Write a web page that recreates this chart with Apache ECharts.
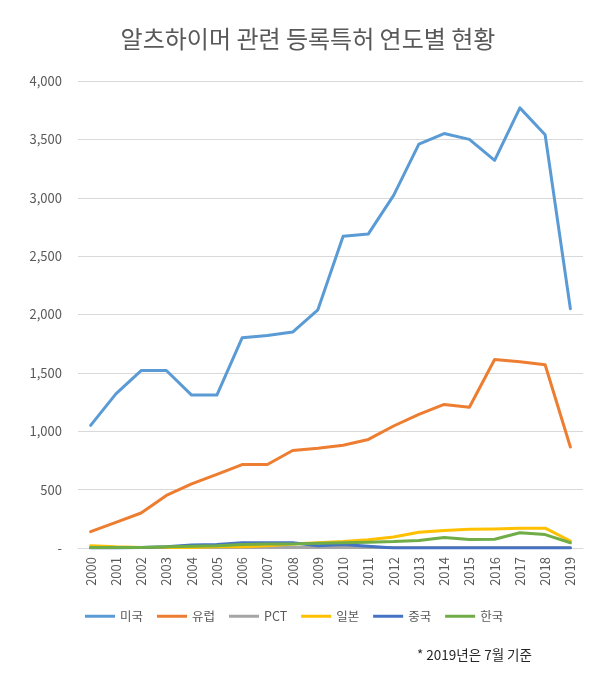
<!DOCTYPE html>
<html>
<head>
<meta charset="utf-8">
<script src="https://cdn.jsdelivr.net/npm/echarts@6/dist/echarts.min.js"></script>
<style>
html,body{margin:0;padding:0;background:#fff;}
#c{width:616px;height:675px;}
</style>
</head>
<body>
<div id="c"></div>
<script>
const years = ['2000','2001','2002','2003','2004','2005','2006','2007','2008','2009','2010','2011','2012','2013','2014','2015','2016','2017','2018','2019'];
const usa    = [1050,1320,1520,1520,1310,1310,1800,1820,1850,2040,2670,2690,3020,3460,3550,3500,3320,3770,3540,2050];
const europe = [140,220,300,450,550,630,715,715,835,855,880,930,1045,1145,1230,1205,1615,1595,1570,865];
const pct    = [5,5,5,5,5,5,5,5,5,5,5,5,5,5,5,5,5,5,5,5];
const japan  = [20,10,5,5,5,10,10,20,35,45,55,70,95,135,150,160,163,170,170,60];
const china  = [0,0,5,10,25,30,45,45,45,20,30,15,0,0,0,0,0,0,0,0];
const korea  = [5,5,5,10,15,20,30,35,35,40,45,50,55,65,90,72,75,130,115,45];
const seriesNames = ['미국','유럽','PCT','일본','중국','한국'];
const seriesColors = ['#5B9BD5','#ED7D31','#A5A5A5','#FFC000','#4472C4','#70AD47'];
const seriesData = [usa, europe, pct, japan, china, korea];

const chart = echarts.init(document.getElementById('c'));
const font = '"Noto Sans CJK KR", "Noto Sans", sans-serif';
chart.setOption({
  animation: false,
  textStyle: {fontFamily: font},
  title: {
    text: '알츠하이머 관련 등록특허 연도별 현황',
    left: 'center', top: 22,
    textStyle: {fontSize: 24, fontWeight: 'normal', color: '#595959', fontFamily: font}
  },
  legend: {
    top: 605, left: 80,
    itemWidth: 30, itemHeight: 3, itemGap: 14,
    icon: 'rect',
    textStyle: {fontSize: 12.5, color: '#595959', fontFamily: font},
    data: seriesNames.map((n, i) => ({name: n, itemStyle: {color: seriesColors[i]}}))
  },
  grid: {left: 78, right: 33, top: 81, bottom: 127, containLabel: false},
  xAxis: {
    type: 'category',
    data: years,
    boundaryGap: true,
    axisLine: {show: true, lineStyle: {color: '#D9D9D9'}},
    axisTick: {show: false},
    axisLabel: {rotate: 90, color: '#595959', fontSize: 13, margin: 9, fontFamily: font}
  },
  yAxis: {
    type: 'value',
    min: 0, max: 4000, interval: 500,
    axisLine: {show: false},
    axisTick: {show: false},
    splitLine: {lineStyle: {color: '#D9D9D9'}},
    axisLabel: {
      color: '#595959', fontSize: 13, margin: 16, fontFamily: font,
      formatter: v => v === 0 ? '-' : v.toLocaleString('en-US')
    }
  },
  series: seriesNames.map((n, i) => ({
    name: n,
    type: 'line',
    data: seriesData[i],
    symbol: 'none',
    lineStyle: {width: 3, color: seriesColors[i], cap: 'round', join: 'round'},
    itemStyle: {color: seriesColors[i]}
  })),
  graphic: [{
    type: 'text',
    left: 417, top: 648,
    style: {text: '* 2019년은 7월 기준', fill: '#262626', font: '13.5px ' + font}
  }]
});
</script>
</body>
</html>
